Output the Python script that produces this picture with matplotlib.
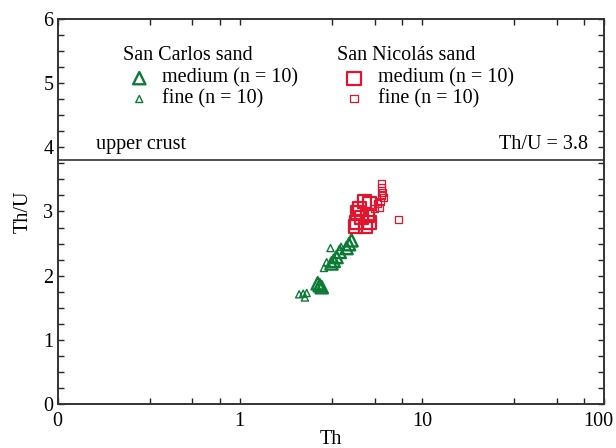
import numpy as np
import matplotlib
matplotlib.use('Agg')
import matplotlib.pyplot as plt
import matplotlib.transforms as mtransforms
from matplotlib.ticker import FixedLocator, NullFormatter, MultipleLocator

plt.rcParams['font.family'] = ['Liberation Serif', 'DejaVu Serif']

# San Carlos sand, medium fraction (Th, Th/U)
sc_med_th = [4.11, 3.98, 3.86, 3.54, 3.40, 3.28, 3.19, 2.75, 2.68, 2.82]
sc_med_thu = [2.55, 2.49, 2.43, 2.37, 2.29, 2.23, 2.19, 1.85, 1.88, 1.82]
# San Carlos sand, fine fraction
sc_fine_th = [2.12, 2.23, 2.33, 2.28, 3.15, 3.00, 3.30, 3.60, 2.68, 2.90]
sc_fine_thu = [1.71, 1.72, 1.73, 1.66, 2.43, 2.21, 2.27, 2.45, 1.82, 2.12]
# San Nicolas sand, medium fraction
sn_med_th = [4.86, 5.18, 4.45, 4.68, 4.39, 4.34, 5.05, 5.18, 4.56, 4.92]
sn_med_thu = [3.16, 3.13, 2.99, 2.90, 2.83, 2.76, 2.94, 2.83, 3.05, 2.77]
# San Nicolas sand, fine fraction
sn_fine_th = [6.00, 6.00, 6.18, 6.10, 5.93, 5.86, 7.47, 5.50, 5.70, 6.00]
sn_fine_thu = [3.44, 3.38, 3.22, 3.29, 3.16, 3.06, 2.88, 3.05, 3.12, 3.25]

upper_crust = 3.8
x_ticks = [0.1, 1, 10, 100]
x_ticklabels = ['0', '1', '10', '100']

green = '#0b7a35'
red = '#e3142d'
fs = 14.5

fig = plt.figure(figsize=(6.16, 4.48), dpi=100)
ax = fig.add_axes([0.0935, 0.098, 0.887, 0.860])

big_tri = dict(marker='^', s=78, facecolors='none', edgecolors=green, linewidths=1.7)
small_tri = dict(marker='^', s=26, facecolors='none', edgecolors=green, linewidths=1.0)
big_sq = dict(marker='s', s=90, facecolors='none', edgecolors=red, linewidths=1.6)
small_sq = dict(marker='s', s=26, facecolors='none', edgecolors=red, linewidths=0.9)

ax.scatter(sc_med_th, sc_med_thu, zorder=3, **big_tri)
ax.scatter(sc_fine_th, sc_fine_thu, zorder=3, **small_tri)
ax.scatter(sn_med_th, sn_med_thu, zorder=3, **big_sq)
ax.scatter(sn_fine_th, sn_fine_thu, zorder=3, **small_sq)

ax.axhline(upper_crust, color='#333333', lw=1.2, zorder=2)
ax.text(0.1625, upper_crust + 0.17, 'upper crust', fontsize=fs, ha='left', va='baseline')
ax.text(82, upper_crust + 0.17, 'Th/U = 3.8', fontsize=fs, ha='right', va='baseline')

# legend, drawn by hand in axes coordinates
tr = ax.transAxes
ax.text(0.119, 0.906, 'San Carlos sand', transform=tr, fontsize=fs, va='center')
ax.scatter([0.1495], [0.846], transform=tr, **big_tri)
ax.scatter([0.1495], [0.792], transform=tr, **small_tri)
ax.text(0.1905, 0.846, 'medium (n = 10)', transform=tr, fontsize=fs, va='center')
ax.text(0.1905, 0.792, 'fine (n = 10)', transform=tr, fontsize=fs, va='center')

ax.text(0.511, 0.906, 'San Nicolás sand', transform=tr, fontsize=fs, va='center')
ax.scatter([0.5425], [0.846], transform=tr, **big_sq)
ax.scatter([0.5425], [0.792], transform=tr, **small_sq)
ax.text(0.586, 0.846, 'medium (n = 10)', transform=tr, fontsize=fs, va='center')
ax.text(0.586, 0.792, 'fine (n = 10)', transform=tr, fontsize=fs, va='center')

ax.set_xscale('log')
ax.set_xlim(0.1, 100)
ax.set_ylim(0, 6)
ax.set_xticks(x_ticks)
ax.set_xticklabels(x_ticklabels)
minors = [d * m for d in [0.1, 1, 10] for m in [3.2, 5.5, 7.8]]
ax.xaxis.set_minor_locator(FixedLocator(minors))
ax.xaxis.set_minor_formatter(NullFormatter())
ax.yaxis.set_major_locator(MultipleLocator(1))
ax.yaxis.set_minor_locator(MultipleLocator(0.25))

ax.tick_params(which='both', direction='in', top=True, right=True,
               labelsize=fs, color='#222222', width=1.0, length=4)
ax.tick_params(axis='x', pad=6)
ax.tick_params(axis='y', pad=3)
for s in ax.spines.values():
    s.set_color('#333333')
    s.set_linewidth(1.4)

# keep the "100" label inside the figure
last = ax.get_xticklabels()[-1]
last.set_transform(last.get_transform() +
                   mtransforms.ScaledTranslation(-4 / 72, 0, fig.dpi_scale_trans))

ax.set_xlabel('Th', fontsize=fs, labelpad=-1)
ax.set_ylabel('Th/U', fontsize=fs, labelpad=8)

fig.savefig('out.png', dpi=100)
